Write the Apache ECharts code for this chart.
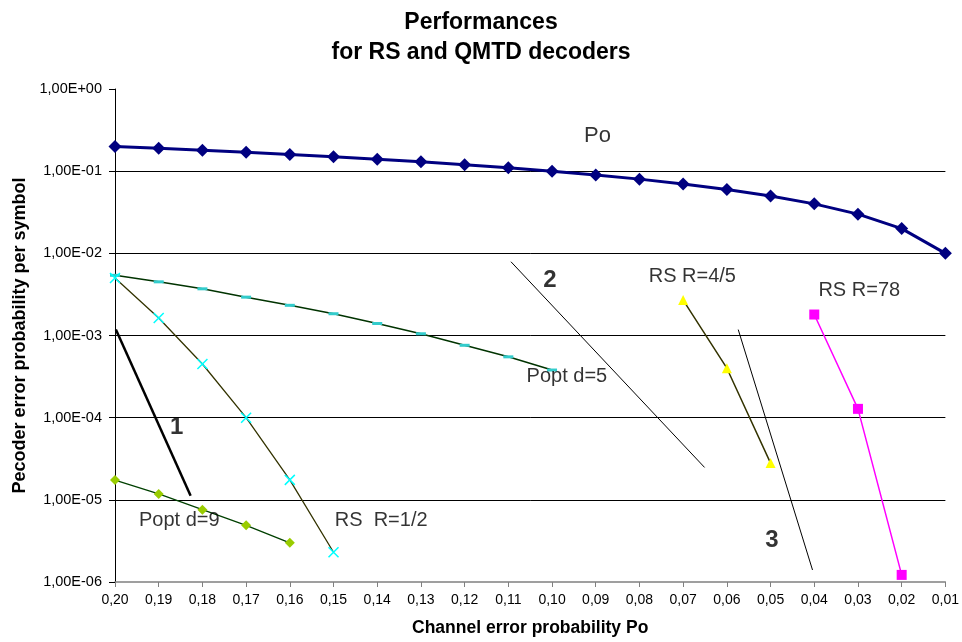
<!DOCTYPE html>
<html>
<head>
<meta charset="utf-8">
<script src="https://cdn.jsdelivr.net/npm/echarts@6/dist/echarts.min.js"></script>
<style>html,body{margin:0;padding:0;background:#fff}#c{width:962px;height:642px}</style>
</head>
<body>
<div id="c"></div>
<script>
// x values (channel error probability Po)
var xPo = [0.20,0.19,0.18,0.17,0.16,0.15,0.14,0.13,0.12,0.11,0.10,0.09,0.08,0.07,0.06,0.05,0.04,0.03,0.02,0.01];
var yPo = [0.20,0.19,0.18,0.17,0.16,0.15,0.14,0.13,0.12,0.11,0.10,0.09,0.08,0.07,0.06,0.05,0.04,0.03,0.02,0.01];

var xPopt5 = [0.20,0.19,0.18,0.17,0.16,0.15,0.14,0.13,0.12,0.11,0.10];
var yPopt5 = [5.4e-3,4.5e-3,3.7e-3,2.93e-3,2.33e-3,1.84e-3,1.40e-3,1.05e-3,7.6e-4,5.5e-4,3.8e-4];

var xRS12 = [0.20,0.19,0.18,0.17,0.16,0.15];
var yRS12 = [5.0e-3,1.63e-3,4.5e-4,1.0e-4,1.75e-5,2.3e-6];

var xPopt9 = [0.20,0.19,0.18,0.17,0.16];
var yPopt9 = [1.74e-5,1.18e-5,7.6e-6,4.9e-6,3.0e-6];

var xRS45 = [0.07,0.06,0.05];
var yRS45 = [2.7e-3,4.0e-4,2.8e-5];

var xRS78 = [0.04,0.03,0.02];
var yRS78 = [1.8e-3,1.28e-4,1.22e-6];

// slope guide lines (drawn annotations)
var xLine1 = [0.1998,0.1827];
var yLine1 = [1.18e-3,1.12e-5];
var xLine2 = [0.1094,0.0651];
var yLine2 = [7.9e-3,2.48e-5];
var xLine3 = [0.0574,0.0404];
var yLine3 = [1.18e-3,1.40e-6];

// text annotations
var noteText = ['Popt d=5','Popt d=9','RS  R=1/2','RS R=4/5','RS R=78'];
var noteX = [0.0966,0.1853,0.1391,0.0679,0.0297];
var noteY = [3.15e-4,5.62e-6,5.62e-6,5.3e-3,3.53e-3];
var poText = ['Po'];
var poX = [0.0896];
var poY = [0.265];
var numText = ['1','2','3'];
var numX = [0.1859,0.1005,0.0497];
var numY = [7.68e-5,4.67e-3,3.22e-6];

var yTicks = ['1,00E-06','1,00E-05','1,00E-04','1,00E-03','1,00E-02','1,00E-01','1,00E+00'];

function zip(xs, ys){ return xs.map(function(x,i){ return [x, ys[i]]; }); }

var FONT = 'Liberation Sans, Arial, sans-serif';
var chart = echarts.init(document.getElementById('c'));

function lineSeries(name, xs, ys, lineColor, lw, symbol, symSize, itemStyle) {
  return {
    name: name, type: 'line', data: zip(xs, ys),
    lineStyle: { color: lineColor, width: lw },
    symbol: symbol, symbolSize: symSize,
    itemStyle: itemStyle,
    showSymbol: symbol !== 'none',
    animation: false, silent: true, z: 3
  };
}
function textSeries(texts, xs, ys, size, weight) {
  return {
    type: 'scatter', silent: true, symbolSize: 0, z: 5,
    itemStyle: { color: '#000' },
    data: texts.map(function(t,i){ return { value: [xs[i], ys[i]], name: t }; }),
    label: { show: true, position: 'inside', formatter: '{b}', fontFamily: FONT,
      fontSize: size, fontWeight: weight, color: '#000', textBorderWidth: 0 }
  };
}

var xMark = 'path://M0,0L10,10M10,0L0,10';

chart.setOption({
  backgroundColor: '#fff',
  animation: false,
  title: {
    text: 'Performances\nfor RS and QMTD decoders',
    left: 'center', top: 3,
    textStyle: { fontFamily: FONT, fontSize: 23, fontWeight: 'bold', color: '#000', lineHeight: 30 }
  },
  grid: { left: 115, right: 15, top: 89, bottom: 50 },
  xAxis: {
    type: 'value', inverse: true, min: 0.01, max: 0.2, interval: 0.01,
    name: 'Channel error probability Po', nameLocation: 'middle', nameGap: 37,
    nameTextStyle: { fontFamily: FONT, fontSize: 17.5, fontWeight: 'bold', color: '#000' },
    axisLine: { lineStyle: { color: '#808080', width: 1.5 } },
    axisTick: { show: true, inside: false, length: 5, lineStyle: { color: '#808080' } },
    axisLabel: { fontFamily: FONT, fontSize: 14, color: '#000', margin: 11,
      formatter: function(v){ return v.toFixed(2).replace('.', ','); } },
    splitLine: { show: false }
  },
  yAxis: {
    type: 'log', logBase: 10, min: 1e-6, max: 1,
    name: 'Pecoder error probability per symbol', nameLocation: 'middle', nameGap: 85,
    nameTextStyle: { fontFamily: FONT, fontSize: 18, fontWeight: 'bold', color: '#000' },
    axisLine: { show: true, lineStyle: { color: '#000', width: 1 } },
    axisTick: { show: true, length: 6, lineStyle: { color: '#000' } },
    axisLabel: { fontFamily: FONT, fontSize: 14.5, color: '#000', margin: 13,
      formatter: function(v){ var k = Math.round(Math.log10(v)); return yTicks[k + 6]; } },
    splitLine: { show: true, showMaxLine: false, showMinLine: false, lineStyle: { color: '#000', width: 1 } }
  },
  series: [
    lineSeries('Po', xPo, yPo, '#000080', 3, 'diamond', 13, { color: '#000080' }),
    lineSeries('Popt d=5', xPopt5, yPopt5, '#003300', 1.5, 'rect', [10,3], { color: '#33CCCC' }),
    lineSeries('RS R=1/2', xRS12, yRS12, '#333300', 1.3, xMark, 10, { color: 'rgba(0,0,0,0)', borderColor: '#00FFFF', borderWidth: 1.5 }),
    lineSeries('Popt d=9', xPopt9, yPopt9, '#004000', 1.3, 'diamond', 10, { color: '#99CC00' }),
    lineSeries('RS R=4/5', xRS45, yRS45, '#333300', 1.5, 'triangle', 10, { color: '#FFFF00' }),
    lineSeries('RS R=78', xRS78, yRS78, '#FF00FF', 1.5, 'rect', 10, { color: '#FF00FF' }),
    lineSeries('1', xLine1, yLine1, '#000', 2.5, 'none', 0, {}),
    lineSeries('2', xLine2, yLine2, '#000', 1, 'none', 0, {}),
    lineSeries('3', xLine3, yLine3, '#000', 1, 'none', 0, {}),
    textSeries(noteText, noteX, noteY, 20, 'normal'),
    textSeries(poText, poX, poY, 22, 'normal'),
    textSeries(numText, numX, numY, 24, 'bold')
  ]
});
</script>
</body>
</html>
